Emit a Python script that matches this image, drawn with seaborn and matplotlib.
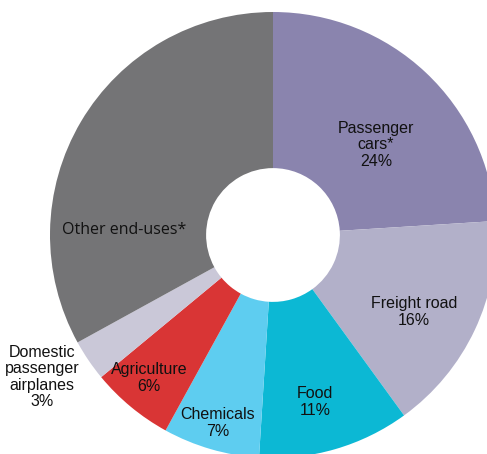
import numpy as np
import pandas as pd
import seaborn as sns
import matplotlib
matplotlib.use('Agg')
import matplotlib.pyplot as plt

sns.set_theme(style="white")
plt.rcParams['font.family'] = ['Liberation Sans', 'DejaVu Sans']

# data, clockwise from 12 o'clock
sectors = ['Passenger cars*', 'Freight road', 'Food', 'Chemicals',
           'Agriculture', 'Domestic passenger airplanes', 'Other end-uses*']
shares = [24, 16, 11, 7, 6, 3, 33]
labels = ['Passenger\ncars*\n24%', 'Freight road\n16%', 'Food\n11%', 'Chemicals\n7%',
          'Agriculture\n6%', 'Domestic\npassenger\nairplanes\n3%', 'Other end-uses*']

colors = ['#8a84ae', '#b2b0c9', '#0cb8d4', '#5ecdf0', '#d93535', '#cac8d8', '#747476']
pal = sns.color_palette(colors)

df = pd.DataFrame({'sector': sectors, 'share': shares, 'label': labels})

# where the text sits, in axes data units (pie radius = 1)
label_pos = [(0.462, 0.404), (0.632, -0.345), (0.188, -0.749), (-0.247, -0.843),
             (-0.556, -0.641), (-1.036, -0.637), (-0.668, 0.022)]

fig = plt.figure(figsize=(4.87, 4.54), dpi=100)
ax = fig.add_axes([50 / 487, -4 / 454, 446 / 487, 446 / 454])

ax.pie(df['share'], colors=pal, startangle=90, counterclock=False,
       radius=1, wedgeprops=dict(width=0.70, linewidth=0))

for (x, y), txt in zip(label_pos, df['label']):
    if txt.startswith('Other'):
        ax.text(x, y, txt, ha='center', va='center', fontsize=11.5,
                family=['Open Sans', 'DejaVu Sans'], color='#111111')
    else:
        ax.text(x, y, txt, ha='center', va='center', fontsize=11.5,
                linespacing=1.1, color='#111111', clip_on=False)

ax.set_xlim(-1, 1)
ax.set_ylim(-1, 1)
ax.set_aspect('equal')
ax.axis('off')

fig.savefig('out.png', dpi=100)
